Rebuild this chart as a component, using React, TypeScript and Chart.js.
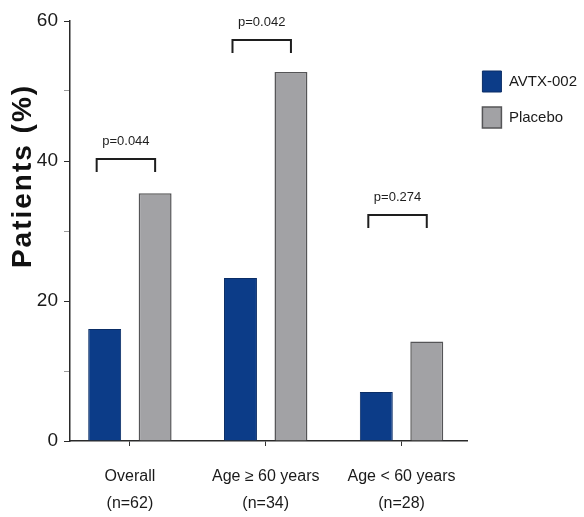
import React, { useEffect, useRef } from "react";
import { Chart, registerables } from "chart.js";

Chart.register(...registerables);

const categories: string[][] = [
  ["Overall", "(n=62)"],
  ["Age \u2265 60 years", "(n=34)"],
  ["Age < 60 years", "(n=28)"],
];
const avtxValues = [16.0, 23.3, 7.0];
const placeboValues = [35.4, 52.7, 14.2];
const pLabels = ["p=0.044", "p=0.042", "p=0.274"];
const bracketTops = [40.3, 57.3, 32.3];
const yTicks = [0, 10, 20, 30, 40, 50, 60];

const FONT = "'Liberation Sans', Arial, Helvetica, sans-serif";

const annotationPlugin = {
  id: "annotations",
  afterDatasetsDraw(chart: any) {
    const ctx = chart.ctx;
    const y = chart.scales.y;
    const m0 = chart.getDatasetMeta(0).data;
    const m1 = chart.getDatasetMeta(1).data;
    ctx.save();
    ctx.strokeStyle = "#1e1e1e";
    ctx.lineWidth = 2;
    ctx.fillStyle = "#1e1e1e";
    ctx.font = `13px ${FONT}`;
    ctx.textAlign = "center";
    ctx.textBaseline = "middle";
    for (let i = 0; i < pLabels.length; i++) {
      const x1 = m0[i].x - 8;
      const x2 = m1[i].x;
      const top = y.getPixelForValue(bracketTops[i]);
      ctx.beginPath();
      ctx.moveTo(x1, top + 13);
      ctx.lineTo(x1, top);
      ctx.lineTo(x2, top);
      ctx.lineTo(x2, top + 13);
      ctx.stroke();
      ctx.fillText(pLabels[i], (x1 + x2) / 2, top - 17);
    }
    ctx.restore();
  },
  afterDraw(chart: any) {
    const ctx = chart.ctx;
    const area = chart.chartArea;
    ctx.save();
    ctx.translate(area.left - 47, area.top + 0.369 * (area.bottom - area.top));
    ctx.rotate(-Math.PI / 2);
    ctx.font = `bold 28px ${FONT}`;
    try { (ctx as any).letterSpacing = "2px"; } catch (e) {}
    ctx.fillStyle = "#111";
    ctx.textAlign = "center";
    ctx.textBaseline = "middle";
    ctx.fillText("Patients (%)", 0, 0);
    ctx.restore();
  },
};

export default function App() {
  const ref = useRef<HTMLCanvasElement | null>(null);
  useEffect(() => {
    if (!ref.current) return;
    const chart = new Chart(ref.current, {
      type: "bar",
      data: {
        datasets: [
          {
            label: "AVTX-002",
            data: avtxValues.map((v, i) => ({ x: i, y: v })),
            backgroundColor: "#0c3c88",
            borderColor: "#0a2d66",
            borderWidth: 1,
            barPercentage: 0.653,
            categoryPercentage: 0.743,
          },
          {
            label: "Placebo",
            data: placeboValues.map((v, i) => ({ x: i, y: v })),
            backgroundColor: "#a2a2a5",
            borderColor: "#555557",
            borderWidth: 1.5,
            barPercentage: 0.653,
            categoryPercentage: 0.743,
          },
        ],
      },
      options: {
        animation: false,
        responsive: false,
        layout: { padding: { top: 21, right: -3, left: 0, bottom: 0 } },
        plugins: {
          tooltip: { enabled: false },
          legend: {
            position: "right",
            align: "start",
            title: { display: true, text: "", font: { size: 10, lineHeight: 1 }, padding: { top: 25, bottom: 0 } },
            labels: {
              boxWidth: 19,
              boxHeight: 21,
              padding: 15,
              color: "#1a1a1a",
              font: { family: FONT, size: 15 },
            },
          },
        },
        scales: {
          x: {
            type: "linear",
            offset: false,
            min: -0.441,
            max: 2.485,
            afterFit: (s: any) => { s.height = 76; },
            grid: { display: true, drawOnChartArea: false, drawTicks: true, tickLength: 5, tickColor: "#333", offset: false },
            border: { display: true, color: "#2a2a2a", width: 1.5 },
            ticks: {
              stepSize: 1,
              includeBounds: false,
              padding: 17,
              color: "#1a1a1a",
              font: { family: FONT, size: 16, lineHeight: 1.7 },
              maxRotation: 0,
              autoSkip: false,
              callback: (v: any) => {
                const i = Math.round(Number(v));
                return Math.abs(Number(v) - i) < 1e-6 && i >= 0 && i < categories.length ? categories[i] : "";
              },
            },
          },
          y: {
            min: 0,
            max: 60,
            afterFit: (s: any) => { s.width = 70; },
            afterBuildTicks: (s: any) => { s.ticks = yTicks.map((v) => ({ value: v })); },
            grid: { display: true, drawOnChartArea: false, drawTicks: true, tickLength: 6, tickColor: (c: any) => (c.tick && c.tick.value % 20 === 0 ? "#2a2a2a" : "#999") },
            border: { display: true, color: "#2a2a2a", width: 1.5 },
            ticks: {
              padding: 6,
              color: "#1a1a1a",
              font: { family: FONT, size: 19 },
              callback: (v: any) => (Number(v) % 20 === 0 ? String(v) : ""),
            },
          },
        },
      },
      plugins: [annotationPlugin],
    } as any);
    return () => chart.destroy();
  }, []);
  return (
    <div style={{ position: "absolute", left: 0, top: 0, width: 584, height: 517, background: "#fff" }}>
      <canvas ref={ref} width={584} height={517} style={{ display: "block", width: 584, height: 517 }} />
    </div>
  );
}
